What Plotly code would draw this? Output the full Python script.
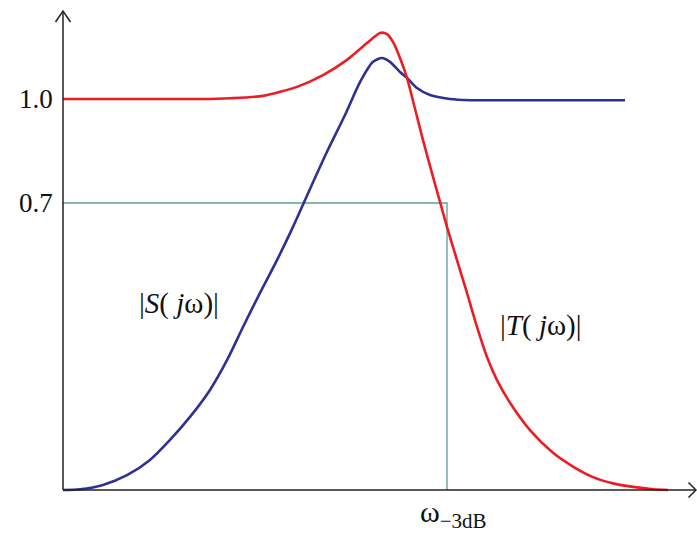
import plotly.graph_objects as go

# Data (x: frequency in arbitrary units, y: magnitude)
t_x = [0, 0.7, 1.37, 1.67, 2.00, 2.34, 2.60, 2.84, 3.04, 3.17, 3.24, 3.30, 3.37, 3.44, 3.52, 3.60, 3.70,
       3.77, 3.84, 3.94, 4.04, 4.14, 4.24, 4.34, 4.47, 4.67, 4.90, 5.10, 5.30, 5.50, 5.70, 5.90, 6.05]
t_y = [1.0, 1.0, 1.0, 1.002, 1.008, 1.031, 1.061, 1.100, 1.143, 1.169, 1.166, 1.146, 1.105, 1.054, 0.975, 0.895, 0.801,
       0.737, 0.673, 0.588, 0.504, 0.417, 0.340, 0.281, 0.223, 0.153, 0.095, 0.060, 0.033, 0.017, 0.008, 0.002, 0.0]

s_x = [0, 0.17, 0.40, 0.64, 0.87, 1.07, 1.27, 1.47, 1.64, 1.80, 1.97, 2.14, 2.30, 2.47, 2.64, 2.82, 2.97,
       3.10, 3.19, 3.27, 3.37, 3.44, 3.54, 3.67, 3.87, 4.07, 4.8, 5.62]
s_y = [0, 0.002, 0.013, 0.038, 0.077, 0.128, 0.187, 0.256, 0.332, 0.417, 0.504, 0.588, 0.673, 0.770, 0.865, 0.959, 1.043,
       1.095, 1.105, 1.095, 1.069, 1.054, 1.028, 1.010, 1.0, 0.997, 0.997, 0.997]

w3db = 3.84
level_07 = 0.734
tick_vals = [1.0, level_07]
tick_text = ["1.0", "0.7"]

X_MIN, X_MAX = -0.63, 6.34
Y_MIN, Y_MAX = -0.1176, 1.2532
X_TIP, Y_TIP = 6.33, 1.225

RED = "#ED1C24"
BLUE = "#2E3192"
TEAL = "#5E9C9C"
AX = "#222222"
FONT = "Liberation Serif"

fig = go.Figure()

fig.add_trace(go.Scatter(x=[0, w3db, w3db], y=[level_07, level_07, 0], mode="lines",
                         line=dict(color=TEAL, width=1.3), hoverinfo="skip"))
fig.add_trace(go.Scatter(x=s_x, y=s_y, mode="lines",
                         line=dict(color=BLUE, width=2.6, shape="spline", smoothing=0.7)))
fig.add_trace(go.Scatter(x=t_x, y=t_y, mode="lines",
                         line=dict(color=RED, width=2.6, shape="spline", smoothing=0.7)))

# axes with open arrow heads
shapes = [
    dict(type="line", xref="x", yref="y", x0=0, y0=0, x1=X_TIP, y1=0, line=dict(color=AX, width=1.5)),
    dict(type="line", xref="x", yref="y", x0=0, y0=0, x1=0, y1=Y_TIP, line=dict(color=AX, width=1.5)),
    dict(type="path", xref="x", yref="y",
         path=f"M {-0.075},{Y_TIP - 0.028} L 0,{Y_TIP} L {0.075},{Y_TIP - 0.028}",
         line=dict(color=AX, width=1.5)),
    dict(type="path", xref="x", yref="y",
         path=f"M {X_TIP - 0.075},{0.019} L {X_TIP},{0} L {X_TIP - 0.075},{-0.019}",
         line=dict(color=AX, width=1.5)),
]

annotations = []
for v, t in zip(tick_vals, tick_text):
    annotations.append(dict(x=0, y=v, xref="x", yref="y", text=t, showarrow=False,
                            xanchor="right", yanchor="middle", xshift=-8,
                            font=dict(family=FONT, size=27, color="#111")))
annotations.append(dict(x=w3db, y=0, xref="x", yref="y", text="ω<sub>−3dB</sub>", showarrow=False,
                        xanchor="center", yanchor="top", xshift=6, yshift=-3,
                        font=dict(family=FONT, size=30, color="#111")))
annotations.append(dict(x=1.16, y=0.478, xref="x", yref="y", text="|<i>S</i>( <i>j</i>ω)|", showarrow=False,
                        xanchor="center", yanchor="middle",
                        font=dict(family=FONT, size=29, color="#111")))
annotations.append(dict(x=4.78, y=0.422, xref="x", yref="y", text="|<i>T</i>( <i>j</i>ω)|", showarrow=False,
                        xanchor="center", yanchor="middle",
                        font=dict(family=FONT, size=29, color="#111")))

fig.update_layout(
    width=697, height=536,
    margin=dict(l=0, r=0, t=0, b=0),
    paper_bgcolor="white", plot_bgcolor="white",
    showlegend=False,
    shapes=shapes, annotations=annotations,
    xaxis=dict(range=[X_MIN, X_MAX], visible=False, fixedrange=True),
    yaxis=dict(range=[Y_MIN, Y_MAX], visible=False, fixedrange=True),
)

fig.write_html("out.html")
